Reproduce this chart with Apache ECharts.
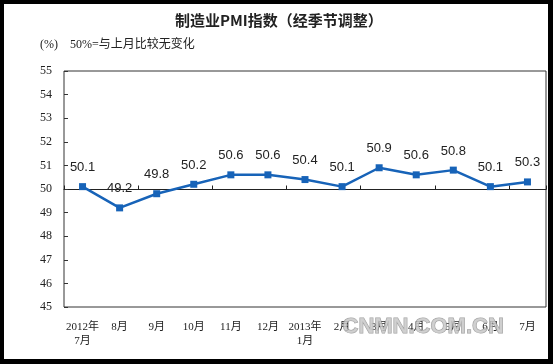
<!DOCTYPE html>
<html><head><meta charset="utf-8">
<style>html,body{margin:0;padding:0;background:#000;}#c{width:553px;height:364px;}</style>
<script src="https://cdn.jsdelivr.net/npm/echarts@6/dist/echarts.min.js"></script>
</head><body><div id="c"></div>
<script>
var categories = ['2012年\n7月','8月','9月','10月','11月','12月','2013年\n1月','2月','3月','4月','5月','6月','7月'];
var pmiValues = [50.1, 49.2, 49.8, 50.2, 50.6, 50.6, 50.4, 50.1, 50.9, 50.6, 50.8, 50.1, 50.3];
var yTicks = [45, 46, 47, 48, 49, 50, 51, 52, 53, 54, 55];
var titleText = '制造业PMI指数（经季节调整）';
var unitText = '(%)';
var noteText = '50%=与上月比较无变化';
var watermark = 'CNMN.COM.CN';

var chart = echarts.init(document.getElementById('c'), null, {renderer:'canvas'});
var serif = '"Liberation Serif","Noto Sans CJK SC",serif';
chart.setOption({
  backgroundColor: '#000',
  animation: false,
  graphic: [
    {type:'rect', z:-10, shape:{x:4,y:4,width:544,height:355}, style:{fill:'#fff'}},
    {type:'text', left:175, top:13, style:{text:titleText, font:'bold 15px "Noto Sans CJK SC",sans-serif', fill:'#222'}},
    {type:'text', left:40, top:39, style:{text:unitText, font:'12px '+serif, fill:'#222'}},
    {type:'text', left:70, top:39, style:{text:noteText, font:'12px '+serif, fill:'#222'}},
    {type:'text', left:342, top:315, z:100, style:{text:watermark, font:'bold 22px "Liberation Sans",Arial,sans-serif', fill:'rgba(200,200,200,0.85)', stroke:'rgba(120,120,120,0.7)', lineWidth:1}}
  ],
  grid: [
    {left:64, top:71, right:7, bottom:57, show:true, borderColor:'#333', borderWidth:1, backgroundColor:'transparent'},
    {left:64, top:71, right:7, bottom:364-189.5, show:false}
  ],
  xAxis: [
    {type:'category', gridIndex:0, data:categories, boundaryGap:true,
     axisLine:{show:false}, axisTick:{show:false},
     axisLabel:{interval:0, margin:13, fontSize:11, fontFamily:serif, color:'#222', lineHeight:14}},
    {type:'category', gridIndex:1, data:categories, boundaryGap:true,
     axisLine:{show:true, lineStyle:{color:'#222', width:1}},
     axisTick:{show:true, inside:true, length:4, lineStyle:{color:'#222'}},
     axisLabel:{show:false}}
  ],
  yAxis: [
    {type:'value', gridIndex:0, min:45, max:55, interval:1,
     axisLine:{show:false}, splitLine:{show:false},
     axisTick:{show:true, inside:true, length:4, lineStyle:{color:'#333'}},
     axisLabel:{margin:12, fontSize:12, fontFamily:serif, color:'#222',
       formatter:function(v){return yTicks.indexOf(v)>=0?String(v):'';}}},
    {type:'value', gridIndex:1, min:50, max:55, show:false}
  ],
  series: [{
    type:'line', xAxisIndex:0, yAxisIndex:0, data:pmiValues,
    symbol:'rect', symbolSize:7,
    lineStyle:{color:'#1763b8', width:2.5},
    itemStyle:{color:'#1763b8'},
    label:{show:true, position:'top', distance:9, fontSize:13, fontFamily:'"Liberation Sans",Arial,sans-serif', color:'#222',
      formatter:function(p){return p.value.toFixed(1);}},
    z:5
  }]
});
</script></body></html>
